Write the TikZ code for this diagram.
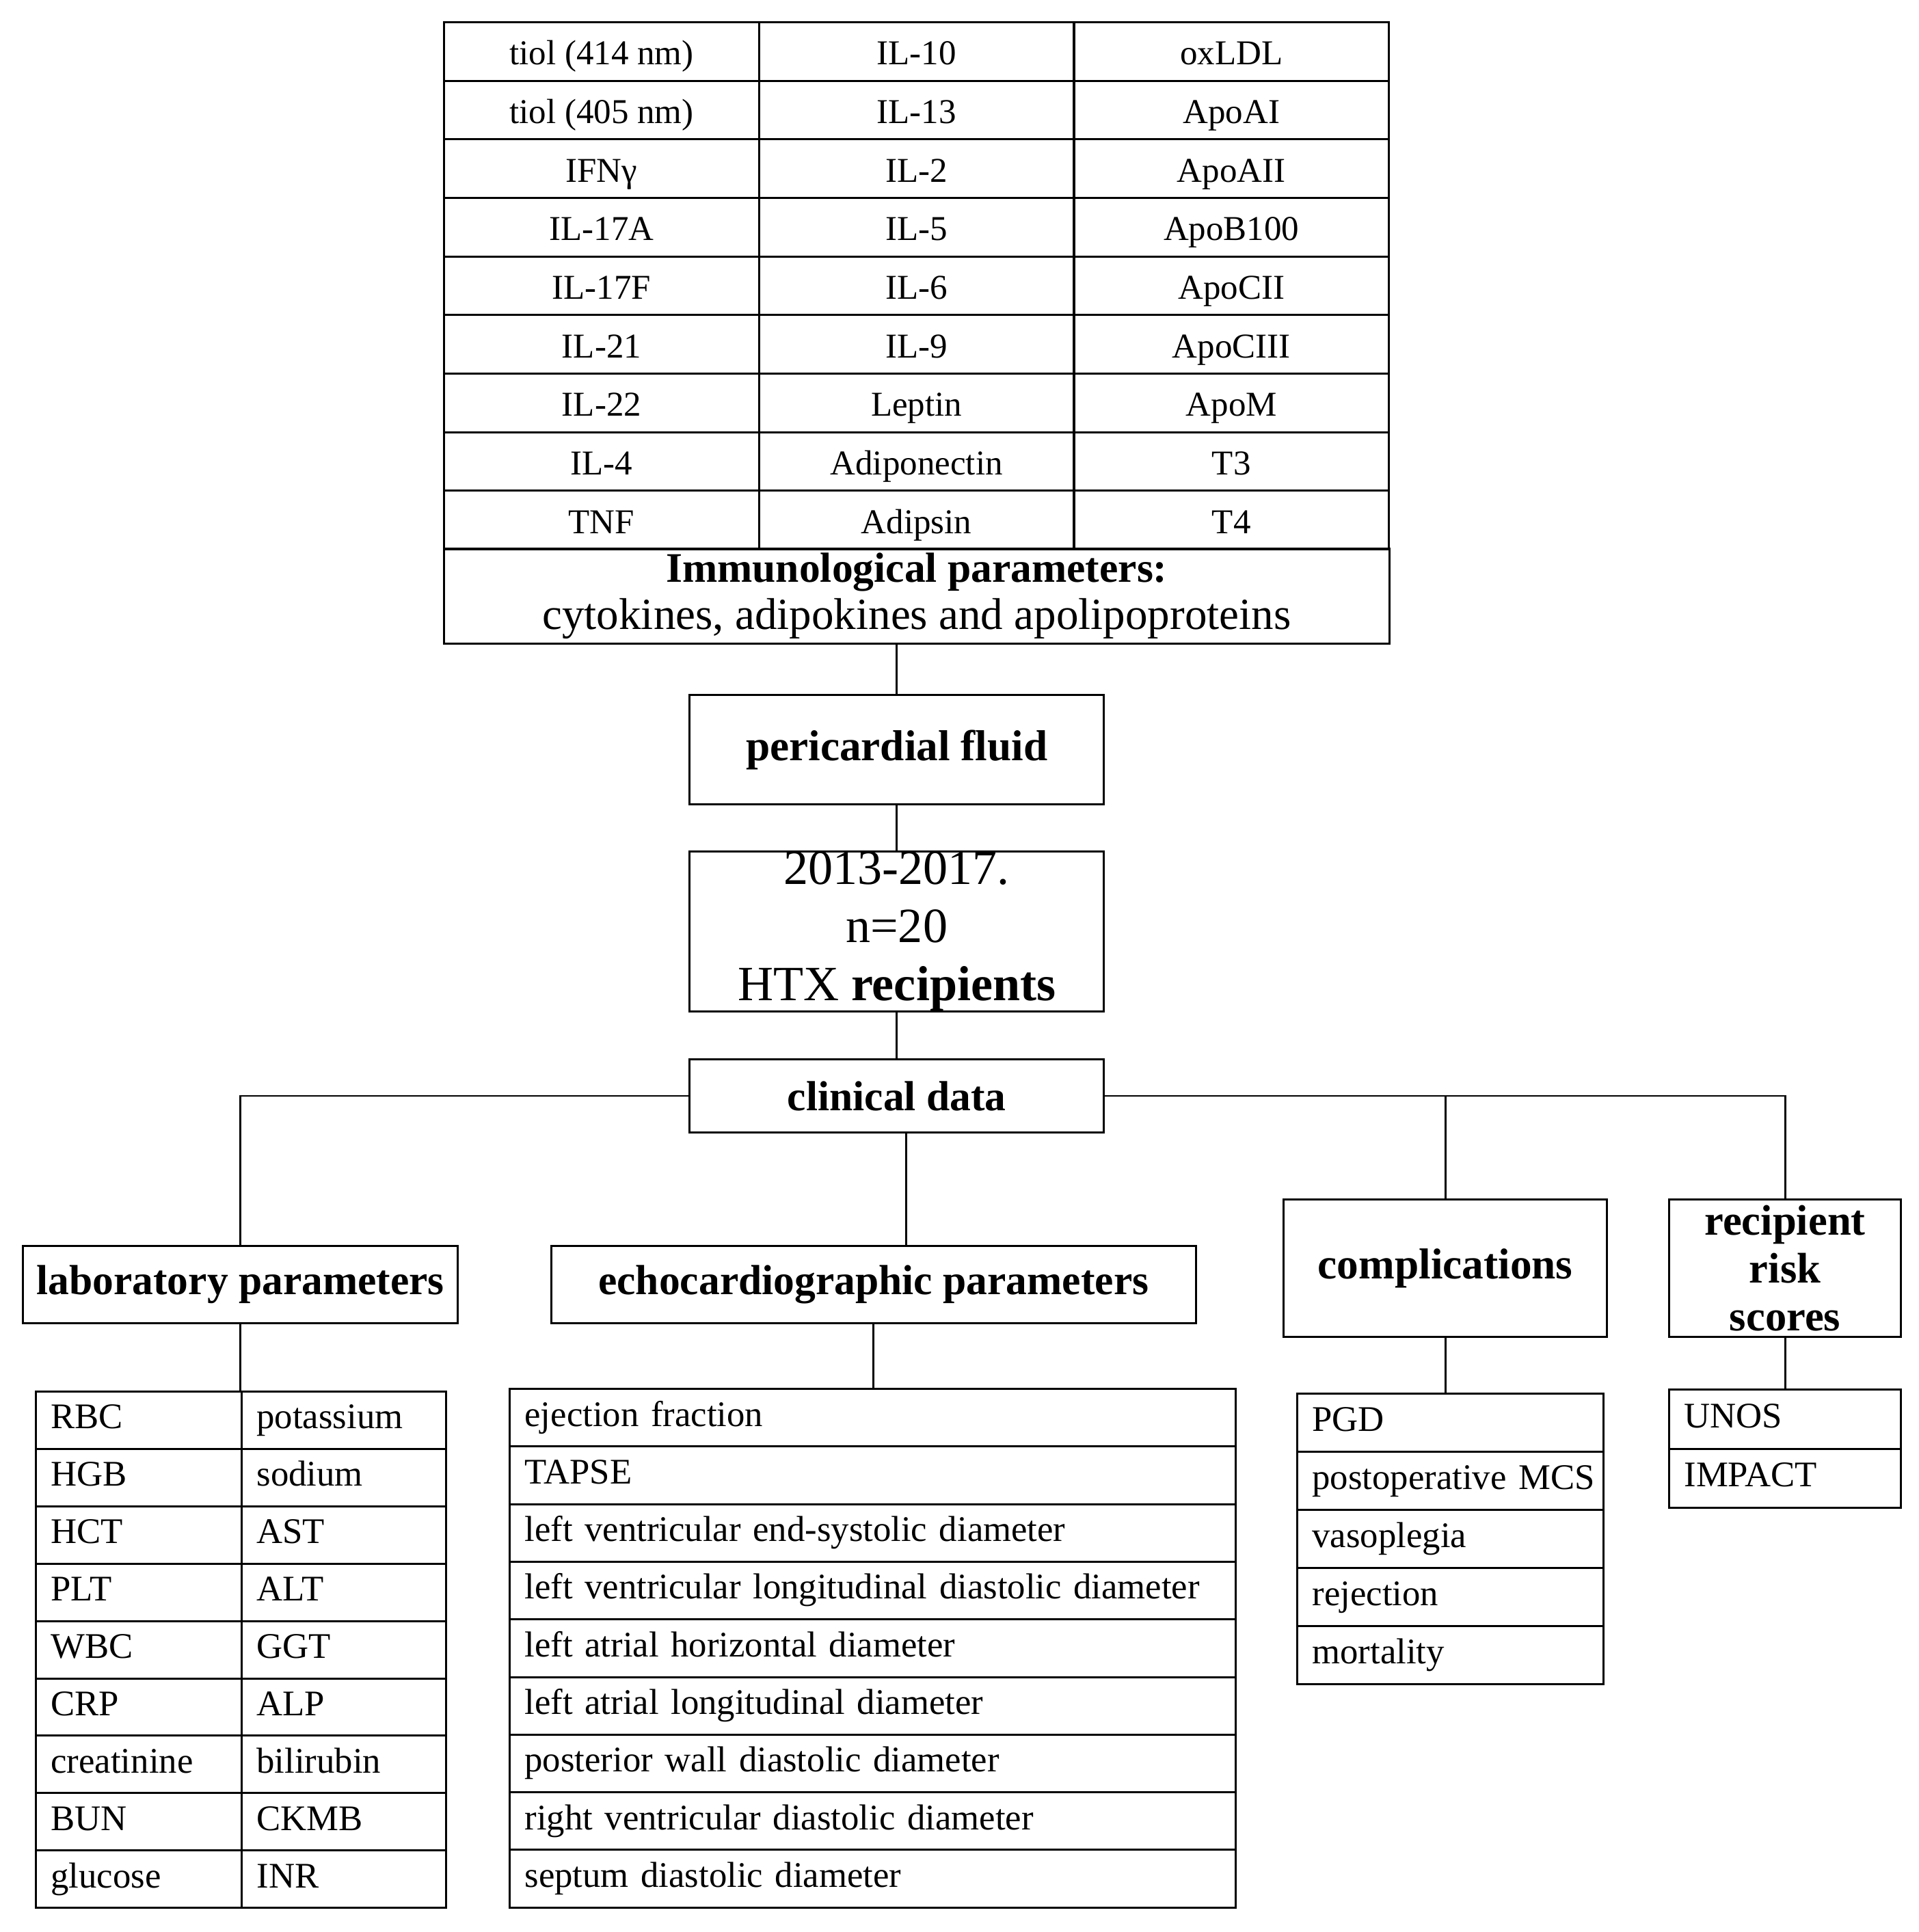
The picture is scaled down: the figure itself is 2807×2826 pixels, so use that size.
\documentclass[tikz,border=0pt]{standalone}
\usepackage{fontspec}
\setmainfont{Liberation Serif}
\begin{document}
\begin{tikzpicture}[x=0.01cm, y=-0.01cm,
  box/.style={draw, line width=0.85pt, inner sep=0pt, anchor=north west, align=center},
  conn/.style={line width=0.8pt},
  tcell/.style={box, minimum width=4.607cm, minimum height=0.8567cm, text height=12pt, text depth=1pt, font=\fontsize{14.5}{17}\selectfont},
  lcell/.style={draw, line width=0.85pt, anchor=north west, inner ysep=0pt, inner xsep=0.22cm, align=left, text height=10.5pt, text depth=3.5pt, font=\fontsize{15}{18}\selectfont},
  head/.style={font=\fontsize{17.5}{20}\selectfont\bfseries},
]
\useasboundingbox (0,0) rectangle (2807,2826);

% top table
\foreach \a/\b/\c [count=\i from 0] in {tiol (414 nm)/IL-10/oxLDL, tiol (405 nm)/IL-13/ApoAI, IFNγ/IL-2/ApoAII, IL-17A/IL-5/ApoB100, IL-17F/IL-6/ApoCII, IL-21/IL-9/ApoCIII, IL-22/Leptin/ApoM, IL-4/Adiponectin/T3, TNF/Adipsin/T4}{
  \node[tcell] (ta\i) at (648,{31+85.67*\i}) {\a};
  \node[tcell] (tb\i) at (1108.7,{31+85.67*\i}) {\b};
  \node[tcell] (tc\i) at (1569.3,{31+85.67*\i}) {\c};
}
\node[box, minimum width=13.82cm, minimum height=1.39cm, font=\fontsize{18.5}{19.6}\selectfont] (hdr) at (648,801)
  {{\fontsize{17.5}{19.6}\selectfont\bfseries Immunological parameters:}\\cytokines, adipokines and apolipoproteins};

% central chain
\node[box, minimum width=6.06cm, minimum height=1.6cm, font=\fontsize{18}{20}\selectfont\bfseries] (peri) at (1007,1015) {pericardial fluid};
\node[box, minimum width=6.06cm, minimum height=2.33cm, font=\fontsize{20.5}{24.2}\selectfont] (htx) at (1007,1244) {2013-2017.\\n=20\\HTX \textbf{recipients}};
\node[box, minimum width=6.06cm, minimum height=1.07cm, head] (clin) at (1007,1548) {clinical data};

% category boxes
\node[box, minimum width=6.36cm, minimum height=1.13cm, head] (lab) at (32,1821) {laboratory parameters};
\node[box, minimum width=9.42cm, minimum height=1.13cm, head] (echo) at (805,1821) {echocardiographic parameters};
\node[box, minimum width=4.73cm, minimum height=2.01cm, font=\fontsize{18}{20}\selectfont\bfseries] (comp) at (1876,1753) {complications};
\node[box, minimum width=3.39cm, minimum height=2.01cm, font=\fontsize{17.8}{20}\selectfont\bfseries] (risk) at (2440,1753) {recipient\\risk\\scores};

% lab table
\foreach \a/\b [count=\i from 0] in {RBC/potassium, HGB/sodium, HCT/AST, PLT/ALT, WBC/GGT, CRP/ALP, creatinine/bilirubin, BUN/CKMB, glucose/INR}{
  \node[lcell, text width=2.57cm, minimum height=0.839cm] (la\i) at (51,{2034+83.9*\i}) {\mbox{\a}};
  \node[lcell, text width=2.55cm, minimum height=0.839cm] (lb\i) at (352,{2034+83.9*\i}) {\mbox{\b}};
}

% echo table
\foreach \t [count=\i from 0] in {ejection fraction, TAPSE, left ventricular end-systolic diameter, left ventricular longitudinal diastolic diameter, left atrial horizontal diameter, left atrial longitudinal diameter, posterior wall diastolic diameter, right ventricular diastolic diameter, septum diastolic diameter}{
  \node[lcell, text width=10.17cm, minimum height=0.843cm] (e\i) at (744,{2030+84.3*\i}) {\mbox{\t}};
}

% complications list
\foreach \t [count=\i from 0] in {PGD, postoperative MCS, vasoplegia, rejection, mortality}{
  \node[lcell, text width=4.04cm, minimum height=0.85cm] (c\i) at (1896,{2037+85*\i}) {\mbox{\t}};
}

% risk list
\foreach \t [count=\i from 0] in {UNOS, IMPACT}{
  \node[lcell, text width=2.95cm, minimum height=0.865cm, inner xsep=0.22cm] (r\i) at (2440,{2031+86.5*\i}) {\mbox{\t}};
}

% connectors
\draw[conn] (peri.north) -- (peri.north |- hdr.south);
\draw[conn] (peri.south) -- (htx.north);
\draw[conn] (htx.south) -- (clin.north);
\draw[conn] (clin.west) -| (lab.north);
\draw[conn] (clin.east) -| (risk.north);
\draw[conn] (comp.north) -- (comp.north |- clin.east);
\coordinate (cs) at ([xshift=0.14cm]clin.south);
\draw[conn] (cs) -- (cs |- echo.north);
\draw[conn] (lab.south) -- (lab.south |- la0.north);
\draw[conn] (echo.south) -- (echo.south |- e0.north);
\draw[conn] (comp.south) -- (comp.south |- c0.north);
\draw[conn] (risk.south) -- (risk.south |- r0.north);
\end{tikzpicture}
\end{document}
